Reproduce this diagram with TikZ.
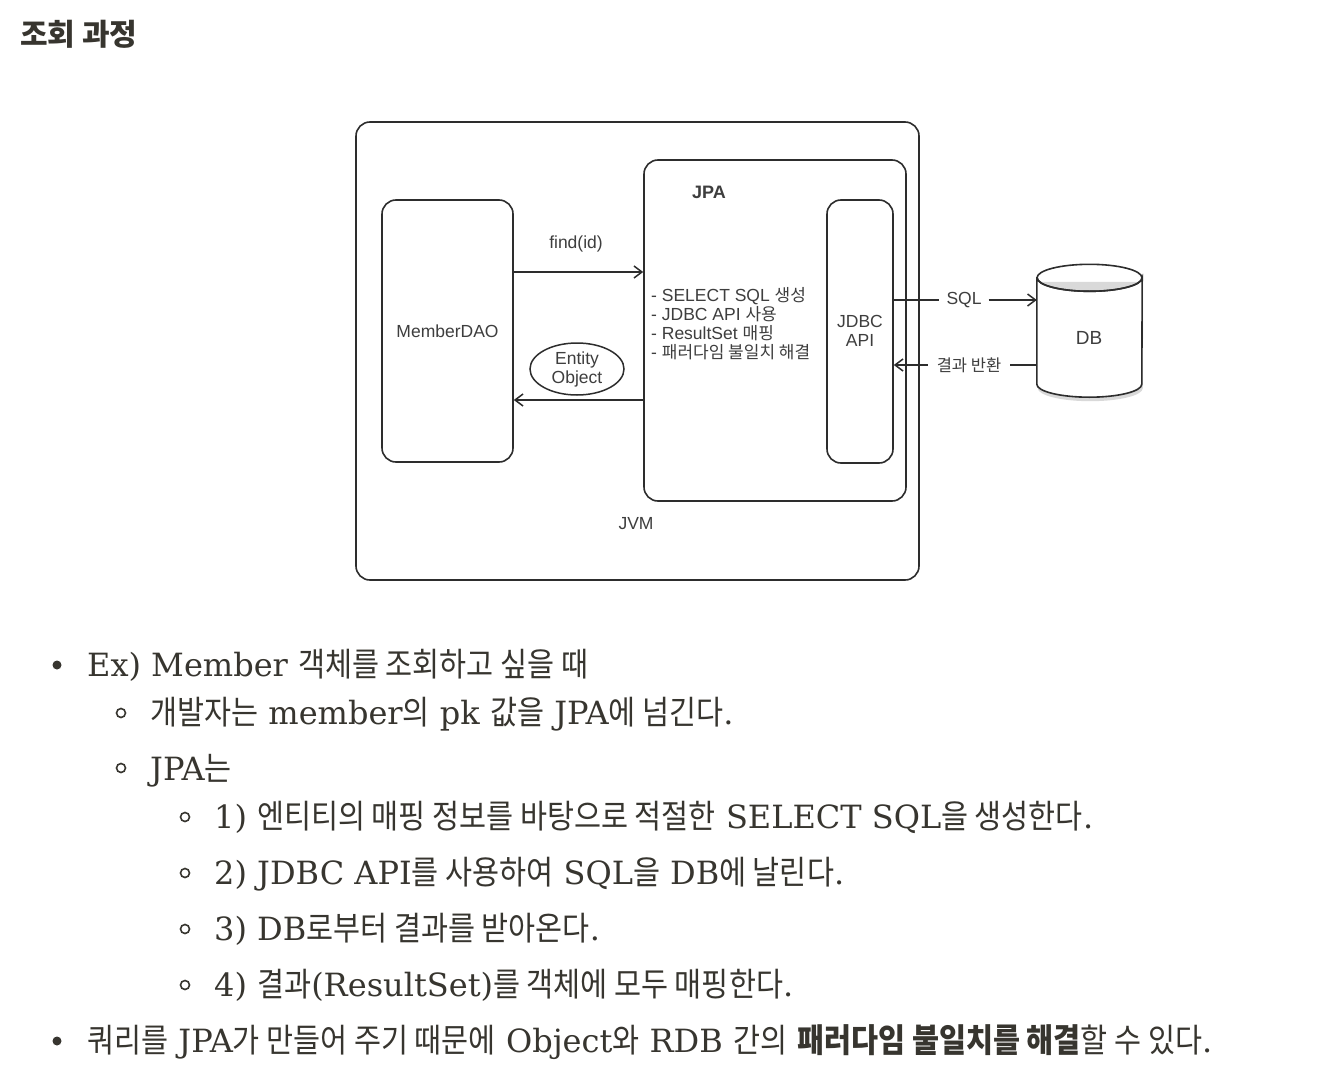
\documentclass[tikz,border=0pt]{standalone}
\usepackage{fontspec}
\setmainfont{DejaVu Serif}
\newfontfamily\kr[FakeStretch=0.89]{Noto Sans CJK KR}
\newfontfamily\krn{Noto Sans CJK KR}
\newfontfamily\ls{Liberation Sans}
\usetikzlibrary{arrows.meta,shapes.geometric,calc}
\definecolor{txt}{RGB}{55,53,47}
\definecolor{ln}{RGB}{45,45,45}
\definecolor{dtx}{RGB}{62,62,62}
\newcommand{\KR}[1]{{\kr\fontsize{33}{38}\selectfont #1}}
\newcommand{\KB}[1]{{\kr\bfseries\fontsize{33}{38}\selectfont #1}}
\newcommand{\DK}[1]{{\krn\fontsize{17}{19}\selectfont #1}}
\tikzset{
  box/.style={draw=ln, line width=1.6, rounded corners=14, inner sep=0},
  dtext/.style={text=dtx, font=\ls\fontsize{17.5}{19}\selectfont, inner sep=0},
  arr/.style={draw=ln, line width=1.5, -{Straight Barb[length=8,width=12,line width=1.5]}},
  plain/.style={draw=ln, line width=1.5},
  lbl/.style={text=dtx, font=\ls\fontsize{17.5}{19}\selectfont, inner sep=7},
  body/.style={text=txt, font=\fontsize{32}{38}\selectfont, anchor=base west, inner sep=0},
  dot/.style={circle, fill=txt, minimum size=9, inner sep=0},
  odot/.style={circle, draw=txt, line width=1.6, minimum size=9, inner sep=0},
}
\begin{document}
\begin{tikzpicture}[x=1pt,y=-1pt]
\useasboundingbox (0,0) rectangle (1320,1092);
\fill[white] (0,0) rectangle (1320,1092);

% title
\node[anchor=base west, inner sep=0, text=txt, font=\krn\bfseries\fontsize{30}{34}\selectfont] (title) at (20,45) {조회 과정};

% diagram boxes
\node[box, minimum width=563, minimum height=458] (jvm) at (637.5,351) {};
\node[box, fill=white, minimum width=262, minimum height=341] (jpa) at (775,330.5) {};
\node[box, minimum width=131, minimum height=262] (dao) at (447.5,331) {};
\node[box, minimum width=66, minimum height=263] (jdbc) at (860,331.5) {};

\node[dtext, font=\ls\bfseries\fontsize{18}{20}\selectfont] (jpal) at (709,192) {JPA};
\node[dtext] (jvml) at (636,524) {JVM};
\node[dtext] (daol) at (447.5,331) {MemberDAO};
\node[dtext, align=center] (jdbcl) at (860,331) {JDBC\\API};
\node[dtext] (find) at (576,244) {find(id)};

\node[dtext, anchor=base west] (b1) at (651,301) {- SELECT SQL \DK{생성}};
\node[dtext, anchor=base west] (b2) at (651,320) {- JDBC API \DK{사용}};
\node[dtext, anchor=base west] (b3) at (651,339) {- ResultSet \DK{매핑}};
\node[dtext, anchor=base west] (b4) at (651,358) {- \DK{패러다임 불일치 해결}};

\node[ellipse, draw=ln, line width=1.5, minimum width=94, minimum height=52, inner sep=0,
      text=dtx, font=\ls\fontsize{17.5}{19}\selectfont, align=center] (ent) at (577,369) {Entity\\Object};

% DB cylinder
\node[minimum width=105, minimum height=106, inner sep=0] (db) at (1089.5,331) {};
\fill[black!15] ($(db.north west)+(1,4)$) -- ($(db.south west)+(1,4)$)
   arc[start angle=180, end angle=0, x radius=52.5, y radius=13]
   -- ($(db.north east)+(1,4)$) -- cycle;
\filldraw[fill=white, draw=ln, line width=1.6] (db.north west) -- (db.south west)
   arc[start angle=180, end angle=0, x radius=52.5, y radius=13]
   -- (db.north east) arc[start angle=0, end angle=180, x radius=52.5, y radius=13.5] -- cycle;
\draw[ln, line width=1.6] (db.north) ellipse[x radius=52.5, y radius=13.5];
\node[dtext, font=\ls\fontsize{19}{21}\selectfont] (dbl) at (1089,338) {DB};

% connectors
\draw[arr] (dao.east |- 0,272) -- (jpa.west |- 0,272);
\draw[arr] (jpa.west |- 0,400) -- (dao.east |- 0,400);

\node[lbl] (sql) at (964,300) {SQL};
\draw[plain] (jdbc.east |- sql.west) -- (sql.west);
\draw[arr] (sql.east) -- (db.west |- sql.east);

\node[lbl, font=\krn\fontsize{16.5}{19}\selectfont, inner sep=9] (res) at (969,365) {결과 반환};
\draw[plain] (db.west |- res.east) -- (res.east);
\draw[arr] (res.west) -- (jdbc.east |- res.west);

% list
\node[dot] (d1) at (57,665) {};
\node[body] (t1) at (87,676) {Ex) Member \KR{객체를 조회하고 싶을 때}};
\node[odot] (d2) at (121,713) {};
\node[body] (t2) at (150,724) {\KR{개발자는} member\KR{의} pk \KR{값을} JPA\KR{에 넘긴다}.};
\node[odot] (d3) at (121,768) {};
\node[body] (t3) at (150,780) {JPA\KR{는}};
\node[odot] (d4) at (185,817) {};
\node[body] (t4) at (214,828) {1) \KR{엔티티의 매핑 정보를 바탕으로 적절한} SELECT SQL\KR{을 생성한다}.};
\node[odot] (d5) at (185,873) {};
\node[body] (t5) at (214,884) {2) JDBC API\KR{를 사용하여} SQL\KR{을} DB\KR{에 날린다}.};
\node[odot] (d6) at (185,929) {};
\node[body] (t6) at (214,940) {3) DB\KR{로부터 결과를 받아온다}.};
\node[odot] (d7) at (185,985) {};
\node[body] (t7) at (214,996) {4) \KR{결과}(ResultSet)\KR{를 객체에 모두 매핑한다}.};
\node[dot] (d8) at (57,1041) {};
\node[body] (t8) at (87,1052) {\KR{쿼리를} JPA\KR{가 만들어 주기 때문에} Object\KR{와} RDB \KR{간의} \KB{패러다임 불일치를 해결}\KR{할 수 있다}.};
\end{tikzpicture}
\end{document}
